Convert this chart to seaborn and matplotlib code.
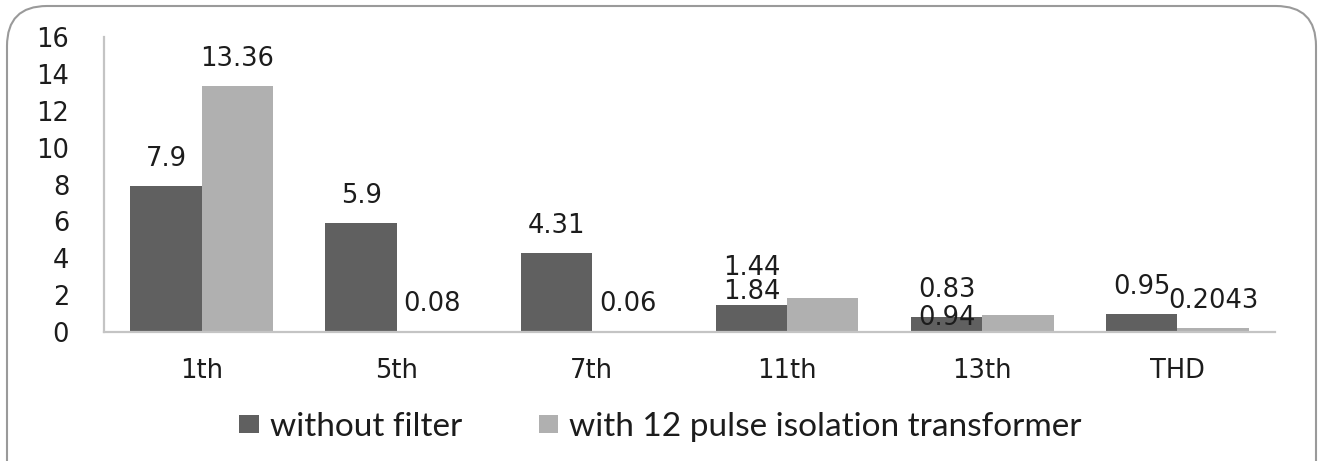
import matplotlib
matplotlib.use("Agg")
import matplotlib.pyplot as plt
from matplotlib.patches import FancyBboxPatch, Patch
import pandas as pd
import seaborn as sns

# Harmonic current magnitudes for the two supply configurations
harmonics = ["1th", "5th", "7th", "11th", "13th", "THD"]
without_filter = [7.9, 5.9, 4.31, 1.44, 0.83, 0.95]
with_transformer = [13.36, 0.08, 0.06, 1.84, 0.94, 0.2043]
series_names = ["without filter", "with 12 pulse isolation transformer"]
y_ticks = [0, 2, 4, 6, 8, 10, 12, 14, 16]

DARK = "#606060"
LIGHT = "#b0b0b0"
AXIS = "#c4c4c4"
TEXT = "#1c1c1c"
FS = 18.5

df = pd.DataFrame({
    "harmonic": harmonics * 2,
    "value": without_filter + with_transformer,
    "series": [series_names[0]] * len(harmonics) + [series_names[1]] * len(harmonics),
})

sns.set_theme(style="white")
plt.rcParams["font.family"] = ["DejaVu Sans"]

fig = plt.figure(figsize=(13.21, 4.61), dpi=100)
ax = fig.add_axes([0.0787, 0.2798, 0.8865, 0.6399])

sns.barplot(data=df, x="harmonic", y="value", hue="series",
            order=harmonics, hue_order=series_names,
            palette=[DARK, LIGHT], saturation=1, width=0.73, gap=0,
            errorbar=None, legend=False, linewidth=0, ax=ax)

ax.set_ylim(0, 16)
ax.set_xlim(-0.5, len(harmonics) - 0.5)
ax.set_yticks(y_ticks)
ax.set_xlabel("")
ax.set_ylabel("")
for side in ("top", "right"):
    ax.spines[side].set_visible(False)
for side in ("left", "bottom"):
    ax.spines[side].set_color(AXIS)
    ax.spines[side].set_linewidth(1.6)
ax.tick_params(axis="y", length=0, pad=25, labelsize=FS, labelcolor=TEXT)
ax.tick_params(axis="x", length=0, pad=19, labelsize=FS, labelcolor=TEXT)

# Value labels above bars; a few were nudged by hand to avoid overlap
label_nudges = {(0, 3): (0, 37), (1, 3): (-71, 6), (1, 4): (-71, -3)}
series_values = [without_filter, with_transformer]
for si, container in enumerate(ax.containers):
    for ci, bar in enumerate(container):
        v = series_values[si][ci]
        dx, dy = label_nudges.get((si, ci), (0, 27))
        ax.annotate(f"{v:g}", (bar.get_x() + bar.get_width() / 2, bar.get_height()),
                    xytext=(dx, dy), textcoords="offset pixels",
                    ha="center", va="center", fontsize=FS, color=TEXT,
                    annotation_clip=False)

# Rounded chart-area border
border = FancyBboxPatch((0.07, -0.5), 13.09, 5.05,
                        boxstyle="round,pad=0,rounding_size=0.4",
                        transform=fig.dpi_scale_trans, facecolor="none",
                        edgecolor="#9a9a9a", linewidth=1.5)
fig.add_artist(border)

handles = [Patch(facecolor=DARK, edgecolor="none"), Patch(facecolor=LIGHT, edgecolor="none")]
fig.legend(handles=handles, labels=series_names, loc="center",
           bbox_to_anchor=(0.5, 0.074), ncol=2, frameon=False,
           handlelength=0.58, handleheight=0.48, handletextpad=0.33,
           columnspacing=2.3, labelcolor=TEXT,
           prop={"family": ["Lato", "DejaVu Sans"], "size": 24})

fig.savefig("out.png", dpi=100, facecolor="white")
